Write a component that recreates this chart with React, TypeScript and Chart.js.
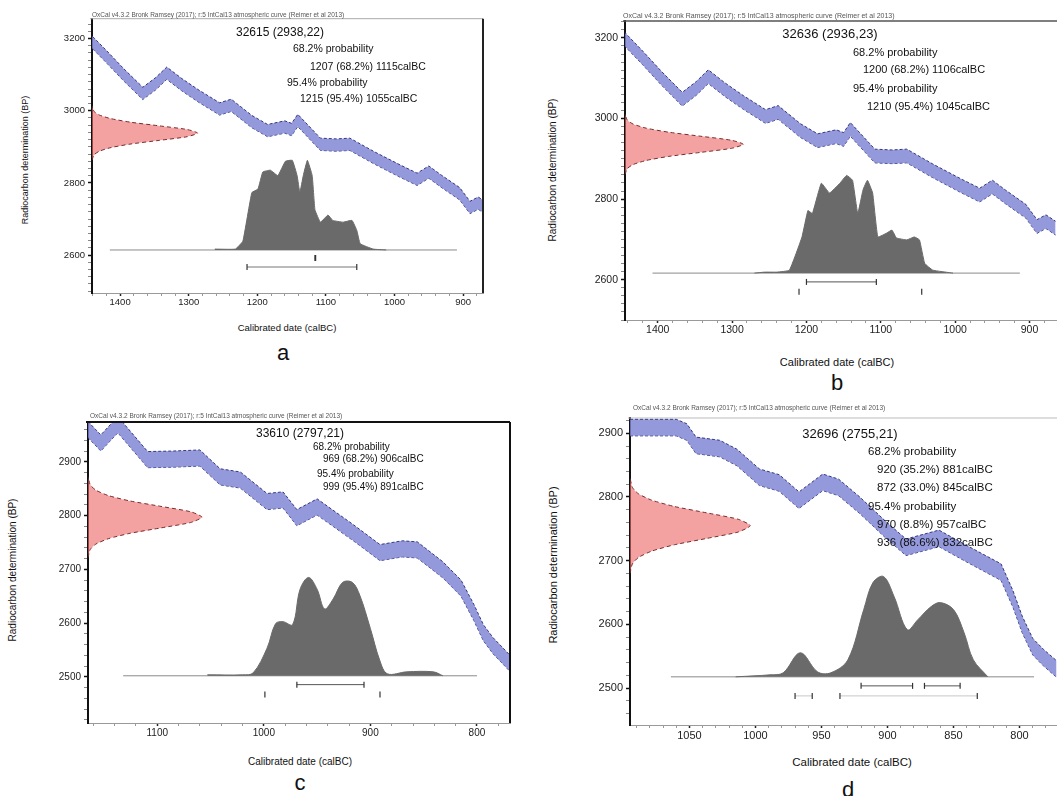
import React, { useEffect, useRef } from "react";
import { Chart, registerables } from "chart.js";

Chart.register(...registerables);
Chart.defaults.font.family = "'Liberation Sans', Arial, sans-serif";

const FONT = "'Liberation Sans', Arial, sans-serif";
const HEADER = "OxCal v4.3.2 Bronk Ramsey (2017); r:5 IntCal13 atmospheric curve (Reimer et al 2013)";
const Y_TITLE = "Radiocarbon determination (BP)";
const X_TITLE = "Calibrated date (calBC)";

// ---- calibration curve (cal BC vs BP), panels a and b share the same stretch ----
const curveCalAB = [1445, 1420, 1395, 1367, 1348, 1332, 1310, 1285, 1255, 1238, 1208, 1185, 1160, 1150, 1141, 1108, 1085, 1065, 1030, 992, 967, 950, 932, 905, 890, 878, 865];
const curveBpAB = [3198, 3150, 3100, 3048, 3075, 3104, 3072, 3040, 3005, 3015, 2970, 2945, 2955, 2948, 2973, 2907, 2905, 2907, 2870, 2833, 2810, 2830, 2805, 2770, 2732, 2744, 2728];
const curveErrAB = 17;

const curveCalC = [1165, 1153, 1137, 1109, 1085, 1060, 1041, 1022, 997, 982, 969, 950, 916, 891, 870, 856, 832, 815, 803, 794, 785, 769];
const curveBpC = [2960, 2935, 2969, 2904, 2905, 2907, 2872, 2866, 2826, 2829, 2796, 2816, 2768, 2731, 2738, 2736, 2699, 2665, 2620, 2582, 2558, 2525];
const curveErrC = 15;

const curveCalD = [1095, 1060, 1052, 1045, 1027, 1014, 997, 982, 967, 949, 937, 921, 901, 886, 861, 841, 814, 805, 798, 790, 782, 772];
const curveBpD = [2909, 2909, 2902, 2881, 2876, 2862, 2831, 2822, 2795, 2823, 2815, 2787, 2748, 2721, 2735, 2712, 2682, 2640, 2600, 2565, 2548, 2530];
const curveErrD = 13;

// ---- measured radiocarbon age profile (offset from mean, BP) ----
const redOffset = [-75, -60, -50, -40, -30, -20, -10, 0, 10, 20, 30, 40, 50, 60, 75];
const redWidth = [0.0, 0.02, 0.07, 0.18, 0.37, 0.64, 0.9, 1.0, 0.9, 0.64, 0.37, 0.18, 0.07, 0.02, 0.0];
const redMeanA = 2938;
const redMeanB = 2936;
const redMeanC = 2797;
const redMeanD = 2755;

// ---- calibrated (posterior) distributions ----
const postCalA = [1262, 1232, 1221, 1208, 1199, 1192, 1181, 1170, 1159, 1149, 1142, 1138, 1133, 1127, 1120, 1116, 1108, 1097, 1090, 1075, 1062, 1055, 1050, 1031, 1012];
const postDenA = [0.01, 0.01, 0.1, 0.64, 0.68, 0.87, 0.89, 0.83, 0.99, 1.0, 0.83, 0.64, 0.83, 1.0, 0.83, 0.45, 0.31, 0.39, 0.33, 0.31, 0.33, 0.22, 0.07, 0.01, 0.0];

const postCalB = [1270, 1256, 1240, 1223, 1206, 1198, 1192, 1180, 1169, 1155, 1146, 1138, 1131, 1124, 1118, 1111, 1104, 1092, 1085, 1079, 1065, 1055, 1048, 1041, 1030, 1003];
const postDenB = [0.0, 0.01, 0.01, 0.03, 0.37, 0.64, 0.61, 0.92, 0.82, 0.92, 1.0, 0.95, 0.61, 0.85, 0.95, 0.82, 0.37, 0.41, 0.44, 0.36, 0.34, 0.37, 0.34, 0.1, 0.03, 0.0];

const postCalC = [1053, 1020, 1010, 997, 989, 982, 973, 966, 958, 950, 943, 935, 926, 917, 910, 900, 891, 884, 866, 841, 832];
const postDenC = [0.01, 0.01, 0.03, 0.28, 0.53, 0.55, 0.52, 0.88, 1.0, 0.88, 0.68, 0.78, 0.95, 0.95, 0.82, 0.48, 0.15, 0.02, 0.04, 0.04, 0.0];

const postCalD = [1015, 989, 979, 966, 953, 943, 930, 918, 911, 903, 895, 885, 877, 867, 860, 850, 842, 835, 824];
const postDenD = [0.0, 0.02, 0.04, 0.24, 0.05, 0.04, 0.17, 0.67, 0.94, 1.0, 0.8, 0.47, 0.57, 0.7, 0.74, 0.67, 0.44, 0.17, 0.0];

// ---- baseline extent and probability ranges (cal BC) ----
const baseA = [1415, 909];
const baseB = [1407, 913];
const baseC = [1132, 800];
const baseD = [1064, 789];

const ranges68A = [[1116, 1115]];
const ranges95A = [[1215, 1055]];
const ranges68B = [[1200, 1106]];
const ranges95B = [[1210, 1045]];
const ranges68C = [[969, 906]];
const ranges95C = [[999, 891]];
const ranges68D = [[920, 881], [872, 845]];
const ranges95D = [[970, 957], [936, 832]];

// ---- text labels ----
const titleA = "32615 (2938,22)";
const probA = ["68.2% probability", "1207 (68.2%) 1115calBC", "95.4% probability", "1215 (95.4%) 1055calBC"];
const titleB = "32636 (2936,23)";
const probB = ["68.2% probability", "1200 (68.2%) 1106calBC", "95.4% probability", "1210 (95.4%) 1045calBC"];
const titleC = "33610 (2797,21)";
const probC = ["68.2% probability", "969 (68.2%) 906calBC", "95.4% probability", "999 (95.4%) 891calBC"];
const titleD = "32696 (2755,21)";
const probD = ["68.2% probability", "920 (35.2%) 881calBC", "872 (33.0%) 845calBC", "95.4% probability", "970 (8.8%) 957calBC", "936 (86.6%) 832calBC"];

// style constants
const BLUE_FILL = "rgba(124,130,212,0.82)";
const BLUE_EDGE = "#34387f";
const RED_FILL = "rgba(236,104,104,0.62)";
const RED_EDGE = "#7a2a2a";
const GRAY = "#6a6a6a";
const LEVEL68 = -0.09;
const LEVEL95 = -0.19;

const framePlugin = {
  id: "frame",
  afterDatasetsDraw(chart: any, _args: any, opts: any) {
    const { ctx, chartArea: a } = chart;
    ctx.save();
    if (opts.top) {
      ctx.strokeStyle = opts.top.color;
      ctx.lineWidth = opts.top.width;
      ctx.beginPath();
      ctx.moveTo(a.left - 2, a.top);
      ctx.lineTo(a.right, a.top);
      ctx.stroke();
    }
    if (opts.right) {
      ctx.strokeStyle = opts.right.color;
      ctx.lineWidth = opts.right.width;
      ctx.beginPath();
      ctx.moveTo(a.right, a.top);
      ctx.lineTo(a.right, a.bottom);
      ctx.stroke();
    }
    ctx.restore();
  },
};

function bracket(r: number[], level: number, lineColor: string) {
  return {
    data: [
      { x: r[0], y: level },
      { x: r[1], y: level },
    ],
    xAxisID: "x",
    yAxisID: "yd",
    borderColor: lineColor,
    borderWidth: 1,
    pointStyle: "line",
    rotation: 90,
    pointRadius: 3,
    pointBorderColor: "#333",
    pointBorderWidth: 1.2,
    fill: false,
  };
}

function buildDatasets(p: any) {
  const upper = p.cal.map((c: number, i: number) => ({ x: c, y: p.bp[i] + p.err }));
  const lower = p.cal.map((c: number, i: number) => ({ x: c, y: p.bp[i] - p.err }));
  const red = redOffset.map((o, i) => ({ x: redWidth[i], y: p.redMean + o }));
  const post = p.postCal.map((c: number, i: number) => ({ x: c, y: p.postDen[i] }));
  const ds: any[] = [
    { data: upper, xAxisID: "x", yAxisID: "y", borderColor: BLUE_EDGE, borderWidth: 1, borderDash: [3, 2], backgroundColor: BLUE_FILL, fill: "+1", pointRadius: 0, tension: 0 },
    { data: lower, xAxisID: "x", yAxisID: "y", borderColor: BLUE_EDGE, borderWidth: 1, borderDash: [3, 2], fill: false, pointRadius: 0, tension: 0 },
    { data: red, xAxisID: "xr", yAxisID: "y", borderColor: RED_EDGE, borderWidth: 1, borderDash: [4, 3], backgroundColor: RED_FILL, fill: "shape", pointRadius: 0, tension: 0.2 },
    { data: post, xAxisID: "x", yAxisID: "yd", borderColor: GRAY, borderWidth: 1, backgroundColor: GRAY, fill: "origin", pointRadius: 0, tension: p.tension },
    { data: [{ x: p.base[0], y: 0 }, { x: p.base[1], y: 0 }], xAxisID: "x", yAxisID: "yd", borderColor: "#8a8a8a", borderWidth: 1, pointRadius: 0, fill: false },
  ];
  p.r68.forEach((r: number[]) => ds.push(bracket(r, LEVEL68, "#555")));
  p.r95.forEach((r: number[]) => ds.push(bracket(r, LEVEL95, p.line95)));
  return ds;
}

function isMult(v: number, m: number) {
  return Math.abs(v / m - Math.round(v / m)) < 1e-6;
}

const panels = [
  {
    id: "a", box: { x: 50, y: 10, w: 440, h: 308 }, padTop: 8, padRight: 7, yW: 42, xH: 25, fs: 9.5,
    xMin: 871, xMax: 1441, xStep: 20, xLabel: 100, yMin: 2495, yMax: 3255, yStep: 20, yLabel: 200,
    cal: curveCalAB, bp: curveBpAB, err: curveErrAB, redMean: redMeanA,
    postCal: postCalA, postDen: postDenA, tension: 0.1, base: baseA, r68: ranges68A, r95: ranges95A, line95: "#777",
    top: { color: "#aaa", width: 1 }, right: { color: "#222", width: 2 },
  },
  {
    id: "b", box: { x: 580, y: 10, w: 490, h: 335 }, padTop: 11, padRight: 7, yW: 45, xH: 25, fs: 10.5,
    xMin: 855, xMax: 1444, xStep: 20, xLabel: 100, yMin: 2500, yMax: 3242, yStep: 20, yLabel: 200,
    cal: curveCalAB, bp: curveBpAB, err: curveErrAB, redMean: redMeanB,
    postCal: postCalB, postDen: postDenB, tension: 0.1, base: baseB, r68: ranges68B, r95: ranges95B, line95: "rgba(0,0,0,0)",
    top: { color: "#555", width: 1.5 }, right: null,
  },
  {
    id: "c", box: { x: 40, y: 410, w: 480, h: 338 }, padTop: 12, padRight: 10, yW: 48, xH: 25, fs: 10,
    xMin: 769, xMax: 1165, xStep: 20, xLabel: 100, yMin: 2414, yMax: 2974, yStep: 20, yLabel: 100,
    cal: curveCalC, bp: curveBpC, err: curveErrC, redMean: redMeanC,
    postCal: postCalC, postDen: postDenC, tension: 0.35, base: baseC, r68: ranges68C, r95: ranges95C, line95: "rgba(0,0,0,0)",
    top: { color: "#111", width: 2 }, right: { color: "#111", width: 2 },
  },
  {
    id: "d", box: { x: 580, y: 405, w: 505, h: 345 }, padTop: 13, padRight: 10, yW: 50, xH: 25, fs: 11,
    xMin: 758, xMax: 1095, xStep: 10, xLabel: 50, yMin: 2442, yMax: 2924, yStep: 20, yLabel: 100,
    cal: curveCalD, bp: curveBpD, err: curveErrD, redMean: redMeanD,
    postCal: postCalD, postDen: postDenD, tension: 0.35, base: baseD, r68: ranges68D, r95: ranges95D, line95: "#c8c8c8",
    top: { color: "#bbb", width: 1 }, right: null,
  },
];

function Panel({ p }: { p: any }) {
  const ref = useRef<HTMLCanvasElement>(null);
  useEffect(() => {
    const makeTicks = (step: number) => (s: any) => {
      const out: any[] = [];
      const lo = Math.min(s.min, s.max);
      const hi = Math.max(s.min, s.max);
      for (let v = Math.ceil(lo / step) * step; v <= hi + 1e-9; v += step) out.push({ value: v });
      s.ticks = out;
    };
    const chart = new Chart(ref.current as HTMLCanvasElement, {
      type: "line",
      data: { datasets: buildDatasets(p) },
      options: {
        animation: false,
        responsive: false,
        devicePixelRatio: 1,
        layout: { padding: { top: p.padTop, right: p.padRight, left: 0, bottom: 0 } },
        plugins: {
          legend: { display: false },
          tooltip: { enabled: false },
          frame: { top: p.top, right: p.right },
        } as any,
        scales: {
          x: {
            type: "linear",
            reverse: true,
            min: p.xMin,
            max: p.xMax,
            afterFit: (s: any) => { s.height = p.xH; },
            afterBuildTicks: makeTicks(p.xStep),
            ticks: {
              autoSkip: false,
              maxRotation: 0,
              padding: 1,
              color: "#222",
              font: { size: p.fs },
              callback: (v: any) => (isMult(Number(v), p.xLabel) ? String(Math.round(Number(v))) : ""),
            },
            grid: {
              drawOnChartArea: false,
              tickLength: 3,
              tickColor: (c: any) => (c.tick && isMult(c.tick.value, p.xLabel) ? "#222" : "#999"),
              tickWidth: (c: any) => (c.tick && isMult(c.tick.value, p.xLabel) ? 1.5 : 1),
            },
            border: { color: "#9a9a9a", width: 1 },
          },
          y: {
            type: "linear",
            min: p.yMin,
            max: p.yMax,
            afterFit: (s: any) => { s.width = p.yW; },
            afterBuildTicks: makeTicks(p.yStep),
            ticks: {
              autoSkip: false,
              padding: 3,
              color: "#222",
              font: { size: p.fs },
              callback: (v: any) => (isMult(Number(v), p.yLabel) ? String(Math.round(Number(v))) : ""),
            },
            grid: {
              drawOnChartArea: false,
              tickLength: 4,
              tickColor: (c: any) => (c.tick && isMult(c.tick.value, p.yLabel) ? "#111" : "#888"),
              tickWidth: (c: any) => (c.tick && isMult(c.tick.value, p.yLabel) ? 1.5 : 1),
            },
            border: { color: "#111", width: 2 },
          },
          xr: { type: "linear", display: false, min: 0, max: 3.7, position: "bottom" },
          yd: { type: "linear", display: false, min: -0.48, max: 2.58, position: "right" },
        },
      } as any,
      plugins: [framePlugin],
    });
    return () => chart.destroy();
  }, []);
  return (
    <canvas
      ref={ref}
      width={p.box.w}
      height={p.box.h}
      style={{ position: "absolute", left: p.box.x, top: p.box.y, width: p.box.w, height: p.box.h }}
    />
  );
}

function T({ x, y, size, children, align = "left", color = "#111", rotate = false }: any) {
  let transform = align === "center" ? "translate(-50%,-50%)" : "translate(0,-50%)";
  if (rotate) transform = "translate(-50%,-50%) rotate(-90deg)";
  return (
    <div
      style={{
        position: "absolute",
        left: x,
        top: y,
        fontSize: size,
        fontFamily: FONT,
        color,
        whiteSpace: "nowrap",
        lineHeight: 1,
        transform,
      }}
    >
      {children}
    </div>
  );
}

export default function App() {
  return (
    <div style={{ position: "fixed", left: 0, top: 0, width: 1057, height: 796, overflow: "hidden", background: "#fff" }}>
      {panels.map((p) => (
        <Panel key={p.id} p={p} />
      ))}

      {/* panel a */}
      <T x={92} y={15} size={6.5} color="#555">{HEADER}</T>
      <T x={280} y={32} size={12} align="center">{titleA}</T>
      <T x={293} y={48} size={10.5}>{probA[0]}</T>
      <T x={310} y={66} size={10.5}>{probA[1]}</T>
      <T x={287} y={82} size={10.5}>{probA[2]}</T>
      <T x={300} y={98} size={10.5}>{probA[3]}</T>
      <T x={25} y={160} size={9} rotate>{Y_TITLE}</T>
      <T x={287} y={328} size={9.5} align="center">{X_TITLE}</T>
      <T x={283} y={353} size={22} align="center">a</T>

      {/* panel b */}
      <T x={623} y={15} size={7} color="#555">{HEADER}</T>
      <T x={830} y={33} size={13} align="center">{titleB}</T>
      <T x={853} y={52} size={11}>{probB[0]}</T>
      <T x={863} y={69} size={11}>{probB[1]}</T>
      <T x={853} y={88} size={11}>{probB[2]}</T>
      <T x={867} y={106} size={11}>{probB[3]}</T>
      <T x={553} y={170} size={10} rotate>{Y_TITLE}</T>
      <T x={837} y={362} size={11} align="center">{X_TITLE}</T>
      <T x={837} y={383} size={22} align="center">b</T>

      {/* panel c */}
      <T x={90} y={416} size={6.5} color="#555">{HEADER}</T>
      <T x={300} y={433} size={12} align="center">{titleC}</T>
      <T x={313} y={447} size={10}>{probC[0]}</T>
      <T x={323} y={459} size={10}>{probC[1]}</T>
      <T x={317} y={474} size={10}>{probC[2]}</T>
      <T x={323} y={487} size={10}>{probC[3]}</T>
      <T x={13} y={570} size={10} rotate>{Y_TITLE}</T>
      <T x={300} y={762} size={10} align="center">{X_TITLE}</T>
      <T x={300} y={783} size={22} align="center">c</T>

      {/* panel d */}
      <T x={633} y={408} size={6.5} color="#555">{HEADER}</T>
      <T x={850} y={433} size={13} align="center">{titleD}</T>
      <T x={868} y={452} size={11.5}>{probD[0]}</T>
      <T x={877} y={470} size={11.5}>{probD[1]}</T>
      <T x={877} y={488} size={11.5}>{probD[2]}</T>
      <T x={868} y={507} size={11.5}>{probD[3]}</T>
      <T x={877} y={525} size={11.5}>{probD[4]}</T>
      <T x={877} y={543} size={11.5}>{probD[5]}</T>
      <T x={553} y={565} size={11} rotate>{Y_TITLE}</T>
      <T x={852} y={763} size={11.5} align="center">{X_TITLE}</T>
      <T x={848} y={790} size={22} align="center">d</T>
    </div>
  );
}
